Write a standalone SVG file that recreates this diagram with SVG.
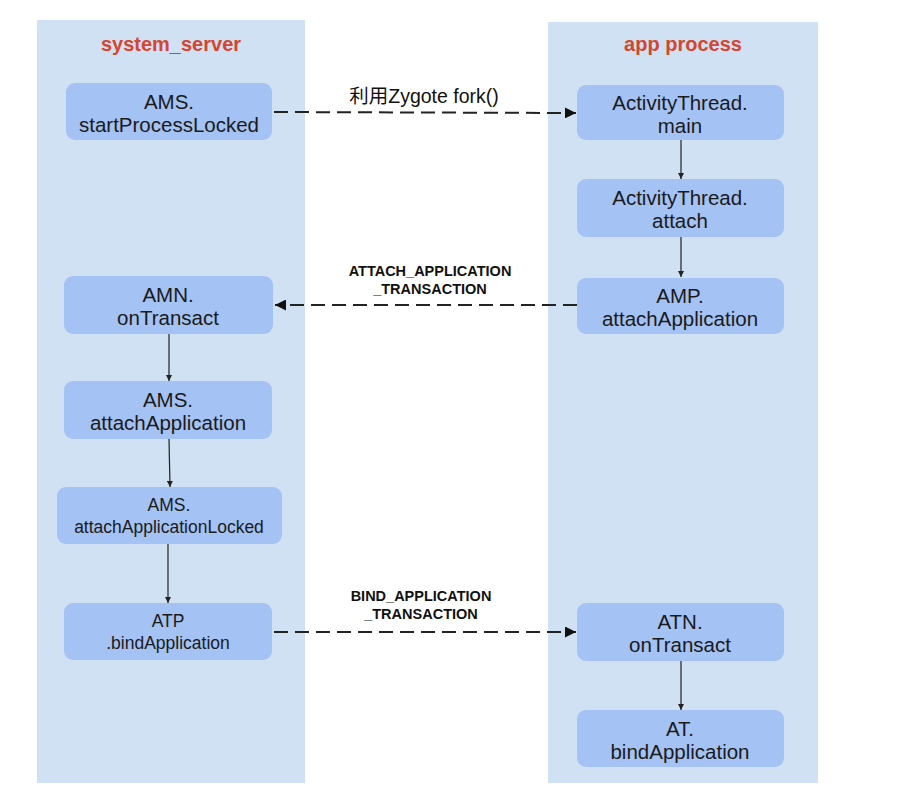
<svg xmlns="http://www.w3.org/2000/svg" width="898" height="801" viewBox="0 0 898 801">
<defs>
<style>
.panel{fill:#d0e1f3}
.title{font-family:"Liberation Sans",Arial,sans-serif;font-size:20px;font-weight:bold;fill:#d5452f;text-anchor:middle}
.box{fill:#a4c2f4}
.t{font-family:"Liberation Sans",Arial,sans-serif;font-size:20.5px;fill:#1a1a1a;text-anchor:middle}
.ts{font-family:"Liberation Sans",Arial,sans-serif;font-size:17.5px;fill:#1a1a1a;text-anchor:middle}
.lbl{font-family:"Liberation Sans",Arial,sans-serif;font-size:14.5px;font-weight:bold;fill:#111;text-anchor:middle}
.lblz{font-family:"Liberation Sans","Noto Sans CJK SC",sans-serif;font-size:19.5px;fill:#111;text-anchor:middle}
.solid{stroke:#222;stroke-width:1.2;fill:none}
.dash{stroke:#222;stroke-width:2;fill:none;stroke-dasharray:14,7}
</style>
<marker id="ah" viewBox="0 0 10 10" refX="10" refY="5" markerWidth="6" markerHeight="6" orient="auto" markerUnits="userSpaceOnUse"><path d="M0,0 L10,5 L0,10 z" fill="#222"/></marker>
<marker id="ahb" viewBox="0 0 10 10" refX="10" refY="5" markerWidth="11" markerHeight="11" orient="auto" markerUnits="userSpaceOnUse"><path d="M0,0 L10,5 L0,10 z" fill="#111"/></marker>
</defs>
<rect width="898" height="801" fill="#ffffff"/>
<g id="panel-system-server">
<rect class="panel" x="37" y="20" width="268" height="763"/>
<text class="title" x="171" y="51">system_server</text>
</g>
<g id="panel-app-process">
<rect class="panel" x="548" y="22" width="270" height="761"/>
<text class="title" x="683" y="51">app process</text>
</g>
<g id="connectors">
<line class="dash" x1="274" y1="112" x2="576" y2="113" marker-end="url(#ahb)"/>
<text class="lblz" x="424" y="103">利用Zygote fork()</text>
<line class="solid" x1="681" y1="140" x2="681" y2="179" marker-end="url(#ah)"/>
<line class="solid" x1="681" y1="237" x2="681" y2="277" marker-end="url(#ah)"/>
<line class="dash" x1="577" y1="305" x2="275" y2="305" marker-end="url(#ahb)"/>
<text class="lbl" x="430" y="276">ATTACH_APPLICATION</text>
<text class="lbl" x="430" y="294">_TRANSACTION</text>
<line class="solid" x1="169" y1="334" x2="169" y2="381" marker-end="url(#ah)"/>
<line class="solid" x1="169" y1="439" x2="170" y2="487" marker-end="url(#ah)"/>
<line class="solid" x1="168" y1="544" x2="168" y2="603" marker-end="url(#ah)"/>
<line class="dash" x1="274" y1="632" x2="576" y2="632" marker-end="url(#ahb)"/>
<text class="lbl" x="421" y="601">BIND_APPLICATION</text>
<text class="lbl" x="421" y="619">_TRANSACTION</text>
<line class="solid" x1="681" y1="661" x2="681" y2="710" marker-end="url(#ah)"/>
</g>
<g id="node-ams-startProcessLocked">
<rect class="box" x="66" y="83" width="206" height="57" rx="9"/>
<text class="t" x="169" y="109">AMS.</text>
<text class="t" x="169" y="132">startProcessLocked</text>
</g>
<g id="node-at-main">
<rect class="box" x="577" y="85" width="207" height="55" rx="9"/>
<text class="t" x="680" y="110">ActivityThread.</text>
<text class="t" x="680" y="133">main</text>
</g>
<g id="node-at-attach">
<rect class="box" x="577" y="179" width="207" height="58" rx="9"/>
<text class="t" x="680" y="205">ActivityThread.</text>
<text class="t" x="680" y="228">attach</text>
</g>
<g id="node-amp-attachApplication">
<rect class="box" x="577" y="278" width="207" height="56" rx="9"/>
<text class="t" x="680" y="303">AMP.</text>
<text class="t" x="680" y="326">attachApplication</text>
</g>
<g id="node-amn-onTransact">
<rect class="box" x="64" y="276" width="209" height="58" rx="9"/>
<text class="t" x="168" y="302">AMN.</text>
<text class="t" x="168" y="325">onTransact</text>
</g>
<g id="node-ams-attachApplication">
<rect class="box" x="64" y="381" width="208" height="58" rx="9"/>
<text class="t" x="168" y="407">AMS.</text>
<text class="t" x="168" y="430">attachApplication</text>
</g>
<g id="node-ams-attachApplicationLocked">
<rect class="box" x="57" y="487" width="225" height="57" rx="9"/>
<text class="ts" x="169" y="511">AMS.</text>
<text class="ts" x="169" y="533">attachApplicationLocked</text>
</g>
<g id="node-atp-bindApplication">
<rect class="box" x="64" y="603" width="208" height="57" rx="9"/>
<text class="ts" x="168" y="627">ATP</text>
<text class="ts" x="168" y="649">.bindApplication</text>
</g>
<g id="node-atn-onTransact">
<rect class="box" x="577" y="603" width="207" height="58" rx="9"/>
<text class="t" x="680" y="629">ATN.</text>
<text class="t" x="680" y="652">onTransact</text>
</g>
<g id="node-at-bindApplication">
<rect class="box" x="577" y="710" width="207" height="57" rx="9"/>
<text class="t" x="680" y="736">AT.</text>
<text class="t" x="680" y="759">bindApplication</text>
</g>
</svg>
